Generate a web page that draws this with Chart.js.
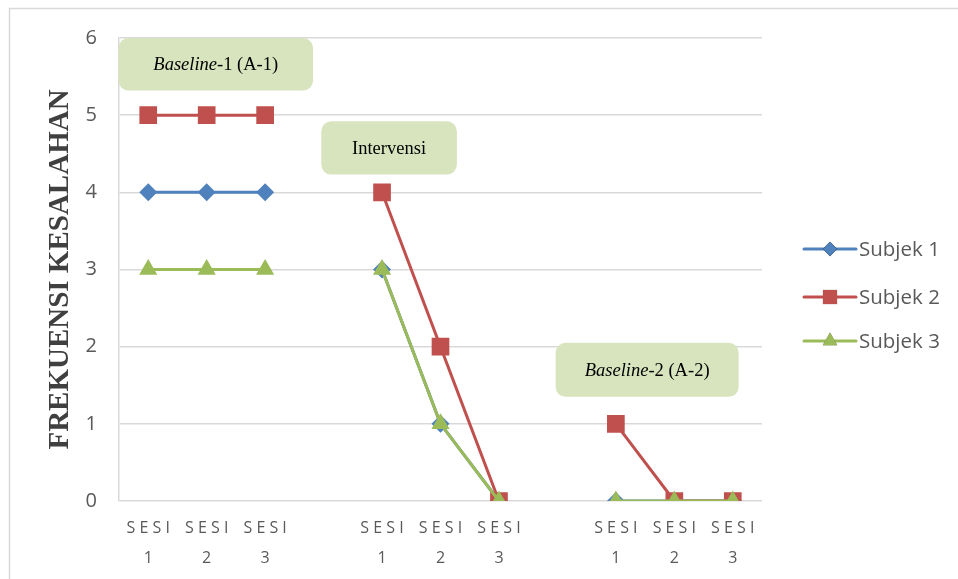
<!DOCTYPE html>
<html>
<head>
<meta charset="utf-8">
<script src="https://cdn.jsdelivr.net/npm/chart.js@4"></script>
<style>
  html, body { margin: 0; padding: 0; background: #fff; }
  #wrap { width: 958px; height: 579px; position: relative; }
</style>
</head>
<body>
<div id="wrap"><canvas id="chart" width="958" height="579"></canvas></div>
<script>
// sessions, with an empty slot between the phases
const sessions = [
  ['S E S I', '1'], ['S E S I', '2'], ['S E S I', '3'], '',
  ['S E S I', '1'], ['S E S I', '2'], ['S E S I', '3'], '',
  ['S E S I', '1'], ['S E S I', '2'], ['S E S I', '3']
];
const subjek1 = [4, 4, 4, null, 3, 1, 0, null, 0, 0, 0];
const subjek2 = [5, 5, 5, null, 4, 2, 0, null, 1, 0, 0];
const subjek3 = [3, 3, 3, null, 3, 1, 0, null, 0, 0, 0];
const yTicks = [0, 1, 2, 3, 4, 5, 6];
const phaseNames = [
  { italic: 'Baseline', rest: '-1 (A-1)' },
  { italic: '', rest: 'Intervensi' },
  { italic: 'Baseline', rest: '-2 (A-2)' }
];

const tickFont = "'Open Sans', sans-serif";
const tickColor = '#595959';

// phase boxes, in scale units (category index, value)
const phaseBoxes = [
  { x0: -0.51, x1: 2.82, y0: 6.0, y1: 5.32 },
  { x0: 2.96, x1: 5.28, y0: 4.92, y1: 4.23 },
  { x0: 6.97, x1: 10.1, y0: 2.05, y1: 1.35 }
];

const frame = {
  id: 'frame',
  beforeDraw(chart) {
    const c = chart.ctx;
    c.save();
    c.strokeStyle = '#d9d9d9';
    c.lineWidth = 1.5;
    c.strokeRect(9.5, 8.5, chart.width + 20, chart.height + 20);
    c.restore();
  }
};

const phaseLabels = {
  id: 'phaseLabels',
  afterDatasetsDraw(chart) {
    const c = chart.ctx;
    const xs = chart.scales.x, ys = chart.scales.y;
    c.save();
    phaseBoxes.forEach((b, i) => {
      const x0 = xs.getPixelForValue(b.x0), x1 = xs.getPixelForValue(b.x1);
      const y0 = ys.getPixelForValue(b.y0), y1 = ys.getPixelForValue(b.y1);
      c.fillStyle = '#d7e4bd';
      c.beginPath();
      c.roundRect(x0, y0, x1 - x0, y1 - y0, 10);
      c.fill();
      const n = phaseNames[i];
      const fi = "italic 18.5px 'Liberation Serif', serif";
      const fr = "18.5px 'Liberation Serif', serif";
      c.font = fi; const wi = n.italic ? c.measureText(n.italic).width : 0;
      c.font = fr; const wr = c.measureText(n.rest).width;
      let x = (x0 + x1) / 2 - (wi + wr) / 2;
      const y = (y0 + y1) / 2 + 1;
      c.fillStyle = '#000';
      c.textBaseline = 'middle';
      c.textAlign = 'left';
      if (n.italic) { c.font = fi; c.fillText(n.italic, x, y); x += wi; }
      c.font = fr; c.fillText(n.rest, x, y);
    });
    c.restore();
  }
};

const sideLegend = {
  id: 'sideLegend',
  afterDraw(chart) {
    const c = chart.ctx;
    const rows = [249, 297, 341];
    c.save();
    chart.data.datasets.forEach((ds, i) => {
      const y = rows[i];
      c.strokeStyle = ds.borderColor;
      c.lineWidth = 3;
      c.lineCap = 'round';
      c.beginPath(); c.moveTo(804, y); c.lineTo(856, y); c.stroke();
      Chart.helpers.drawPoint(c, {
        pointStyle: ds.pointStyle, radius: ds.pointRadius * 0.8, rotation: 0, borderWidth: 0
      }, 830, y);
      c.fillStyle = ds.pointBackgroundColor;
      c.fill();
      c.fillStyle = tickColor;
      c.font = "20.5px " + tickFont;
      c.textBaseline = 'middle';
      c.fillText(ds.label, 859, y + 1);
    });
    c.restore();
  }
};

function series(label, data, color, style, radius, order) {
  return {
    label: label, data: data, order: order,
    borderColor: color, backgroundColor: color,
    pointBackgroundColor: color, pointBorderColor: color,
    pointStyle: style, pointRadius: radius, pointBorderWidth: 0,
    borderWidth: 3, tension: 0, spanGaps: false
  };
}

const ctx = document.getElementById('chart').getContext('2d');
const chart = new Chart(ctx, {
  type: 'line',
  data: {
    labels: sessions,
    datasets: [
      series('Subjek 1', subjek1, '#4f81bd', 'rectRot', 9, 3),
      series('Subjek 2', subjek2, '#c0504d', 'rect', 12.5, 2),
      series('Subjek 3', subjek3, '#9bbb59', 'triangle', 10.5, 1)
    ]
  },
  options: {
    responsive: false,
    animation: false,
    layout: { padding: { left: 10, right: 196, top: 38, bottom: 0 } },
    plugins: { legend: { display: false }, tooltip: { enabled: false } },
    scales: {
      x: {
        offset: true,
        grid: { display: false, drawTicks: false, offset: true },
        border: { display: false },
        ticks: {
          color: tickColor, padding: 12, maxRotation: 0, autoSkip: false,
          font: { family: tickFont, size: 16, lineHeight: 1.9 }
        },
        afterFit(s) { s.height = 78; }
      },
      y: {
        min: 0, max: 6,
        afterBuildTicks(s) { s.ticks = yTicks.map(v => ({ value: v })); },
        grid: { color: '#d9d9d9', lineWidth: 1.5, drawTicks: false },
        border: { display: true, color: '#d9d9d9', width: 1.5 },
        ticks: { color: tickColor, padding: 22, font: { family: tickFont, size: 20 } },
        title: {
          display: true, text: 'FREKUENSI KESALAHAN', color: '#404040',
          font: { family: "'Liberation Serif', serif", size: 29, weight: 'bold' },
          padding: { top: 33, bottom: 0 }
        },
        afterFit(s) { s.width = 109; }
      }
    }
  },
  plugins: [frame, phaseLabels, sideLegend]
});
</script>
</body>
</html>
